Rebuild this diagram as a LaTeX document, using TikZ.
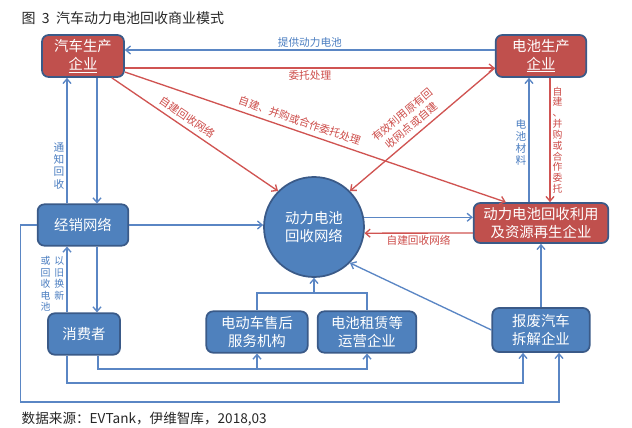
\documentclass[tikz,border=0pt]{standalone}
\usepackage{fontspec}
\setmainfont{Noto Sans CJK SC}
\usetikzlibrary{positioning}
\usetikzlibrary{calc}
\usetikzlibrary{arrows.meta}

\definecolor{boxred}{HTML}{C0504D}
\definecolor{boxblue}{HTML}{4F81BD}
\definecolor{boxedge}{HTML}{3A5A88}
\definecolor{lineblue}{HTML}{5A86C4}
\definecolor{linered}{HTML}{D05452}
\definecolor{textblue}{HTML}{4A7DC0}
\definecolor{textred}{HTML}{CC4B48}

\tikzset{
  basebox/.style={draw=boxedge, line width=1.3pt, rounded corners=5pt, text=white,
    align=center, inner sep=1pt, font=\fontsize{10.8}{13.2}\selectfont},
  redbox/.style={basebox, fill=boxred},
  bluebox/.style={basebox, fill=boxblue},
  bline/.style={draw=lineblue, line width=1pt},
  rline/.style={draw=linered, line width=1pt},
  blabel/.style={text=textblue, inner sep=1.5pt, font=\fontsize{8}{9.2}\selectfont},
  rlabel/.style={text=textred, inner sep=1.5pt, font=\fontsize{8}{9.2}\selectfont},
}

\begin{document}
\begin{tikzpicture}[x=0.75pt, y=-0.75pt, >={Straight Barb[length=3.5pt,width=6pt]}]
\useasboundingbox (0,0) rectangle (632,428);

% title and source
\node (title) [anchor=west, text=black!85, font=\fontsize{10.5}{12}\selectfont] at (17,18) {图\ \ 3\ \ 汽车动力电池回收商业模式};
\node (source) [anchor=west, text=black!85, font=\fontsize{10.2}{12}\selectfont] at (17,419) {数据来源：EVTank，伊维智库，2018,03};

% boxes
\node (carmaker) [redbox, minimum width=61.5pt, minimum height=31.5pt] at (83,56) {汽车生产\\\underline{企业}};
\node (batmaker) [redbox, minimum width=68pt, minimum height=31.5pt] at (541,56) {电池生产\\\underline{企业}};
\node (recycler) [redbox, minimum width=101pt, minimum height=30pt] at (541,223) {动力电池回收利用\\及资源再生企业};
\node (dealer) [bluebox, minimum width=68pt, minimum height=31pt] at (83,225) {经销网络};
\node (consumer) [bluebox, minimum width=54pt, minimum height=31pt] at (84,334) {消费者};
\node (service) [bluebox, minimum width=76pt, minimum height=31pt] at (257,332) {电动车售后\\服务机构};
\node (lease) [bluebox, minimum width=74pt, minimum height=31pt] at (367,332) {电池租赁等\\运营企业};
\node (scrap) [bluebox, minimum width=73pt, minimum height=33pt] at (541,330) {报废汽车\\拆解企业};
\node (network) [circle, draw=boxedge, line width=1.3pt, fill=boxblue, text=white, align=center,
  minimum size=75pt, font=\fontsize{10.8}{13.2}\selectfont] at (314,227) {动力电池\\回收网络};

\coordinate (recin) at ($(recycler.north west)+(33,0)$);
\coordinate (scrapin1) at ($(scrap.south)+(-18,0)$);
\coordinate (scrapin2) at ($(scrap.south)+(18,0)$);
\coordinate (join) at (network.south |- 0,293);

% top row
\draw[bline,->] (batmaker.west |- 0,50) -- node[above, blabel] {提供动力电池} (carmaker.east |- 0,50);
\draw[rline,->] (carmaker.east |- 0,68) -- node[below, rlabel] {委托处理} (batmaker.west |- 0,68);

% diagonals
\draw[rline,->] ($(carmaker.south east)+(-13,0)$) -- node[pos=0.42, above=1.5pt, sloped, rlabel] {自建回收网络} (network.135);
\draw[rline,->] (carmaker.east |- 0,72) -- node[pos=0.45, above=2pt, sloped, rlabel] {自建、并购或合作委托处理} (recin);
\draw[rline,<-] (network.45) -- node[pos=0.47, above=2pt, sloped, rlabel, align=center, font=\fontsize{8}{10.5}\selectfont] {有效利用原有回\\收网点或自建} (batmaker.west |- 0,68);

% right column
\draw[bline,->] (recycler.north -| 529,0) -- node[pos=0.48, left, blabel, align=center] {电\\池\\材\\料} (batmaker.south -| 529,0);
\draw[rline,->] (batmaker.south -| 550,0) -- node[right, rlabel, align=center, font=\fontsize{7.4}{8.1}\selectfont] {自\\建\\、\\并\\购\\或\\合\\作\\委\\托} (recycler.north -| 550,0);
\draw[bline,->] (scrap.north) -- (recycler.south);

% left column
\draw[bline,->] (carmaker.south -| 97,0) -- (dealer.north -| 97,0);
\draw[bline,->] (dealer.north -| 67,0) -- node[pos=0.3, left, blabel, align=center] {通\\知\\回\\收} (carmaker.south -| 67,0);
\draw[bline,->] (dealer.south -| 97,0) -- (consumer.north -| 97,0);
\draw[bline,->] (consumer.north -| 67,0) -- node[pos=0.41, left, blabel, font=\fontsize{7.4}{8.2}\selectfont] {\renewcommand\arraystretch{1}\begin{tabular}{@{}c@{\hspace{3pt}}c@{}}或&以\\回&旧\\收&换\\电&新\\池&\end{tabular}} (dealer.south -| 67,0);

% middle
\draw[bline,->] (dealer.east) -- (dealer.east -| network.west);
\draw[bline,->] (network.11) -- (recycler.west |- network.11);
\draw[rline,->] (recycler.west |- 0,233) -- node[below, rlabel] {自建回收网络} (network.-7);
\draw[bline,->] (scrap.west) -- (network.-45);
\draw[bline] (service.north) |- (join) -| (lease.north);
\draw[bline,->] (join) -- (network.south);

% bottom routes
\draw[bline,->] (consumer.south -| 98,0) |- (lease.south |- 0,369) -- (lease.south);
\draw[bline,->] (service.south |- 0,369) -- (service.south);
\draw[bline,->] (consumer.south -| 67,0) |- (scrapin1 |- 0,383) -- (scrapin1);
\draw[bline,->] (dealer.west) -- ++(-16,0) |- (scrapin2 |- 0,402) -- (scrapin2);
\end{tikzpicture}
\end{document}
